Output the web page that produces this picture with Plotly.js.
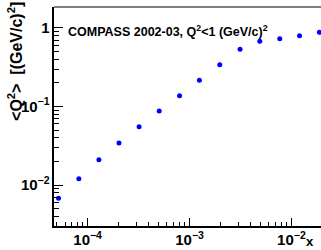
<!DOCTYPE html>
<html><head><meta charset="utf-8">
<script src="https://cdn.plot.ly/plotly-3.0.1.min.js"></script>
<style>html,body{margin:0;padding:0;background:#fff}</style>
</head><body><div id="plot" style="width:321px;height:250px"></div>
<script>
const xValues = [5.18e-5, 8.2e-5, 1.29e-4, 2.03e-4, 3.2e-4, 5.04e-4, 7.98e-4, 1.25e-3, 1.98e-3, 3.13e-3, 4.89e-3, 7.68e-3, 1.2e-2, 1.88e-2];
const q2Values = [0.0068, 0.0120, 0.0209, 0.0343, 0.0553, 0.0877, 0.137, 0.216, 0.341, 0.535, 0.677, 0.731, 0.798, 0.881];
const titleText = "<b>COMPASS 2002-03, Q<sup>2</sup><1 (GeV/c)<sup>2</sup></b>";
const yTitle = "<b>&lt;Q<sup>2</sup>&gt;  [(GeV/c)<sup>2</sup>]</b>";
const xTitle = "<b>x</b>";

const fontFam = "Liberation Sans, Arial, sans-serif";
const data = [{
  x: xValues, y: q2Values, type: 'scatter', mode: 'markers',
  marker: {color: '#0000ff', size: 5, symbol: 'circle'},
  cliponaxis: false
}];
const layout = {
  width: 321, height: 250,
  margin: {l: 54, r: 0, t: 7, b: 24},
  paper_bgcolor: '#fff', plot_bgcolor: '#fff',
  showlegend: false,
  font: {family: fontFam, color: '#000', size: 12},
  xaxis: {
    type: 'log', range: [-4.33, -1.71], dtick: 1,
    exponentformat: 'power',
    showgrid: false, zeroline: false,
    showline: true, linecolor: '#000', linewidth: 2, mirror: false,
    ticks: 'inside', ticklen: 8, tickwidth: 1, tickcolor: '#000',
    tickfont: {family: fontFam, size: 12, weight: 'bold'},
    minor: {ticks: 'inside', ticklen: 4, tickwidth: 1, tickcolor: '#000', showgrid: false}
  },
  yaxis: {
    type: 'log', range: [-2.522, 0.267], dtick: 1,
    exponentformat: 'power',
    showgrid: false, zeroline: false,
    showline: true, linecolor: '#000', linewidth: 2, mirror: false,
    ticks: 'inside', ticklen: 9, tickwidth: 1, tickcolor: '#000',
    tickfont: {family: fontFam, size: 12, weight: 'bold'},
    minor: {ticks: 'inside', ticklen: 5, tickwidth: 1, tickcolor: '#000', showgrid: false}
  },
  shapes: [
    {type: 'line', xref: 'paper', yref: 'paper', x0: 0, x1: 1, y0: 1, y1: 1, line: {color: '#555', width: 1.5}}
  ],
  annotations: [
    {text: titleText, xref: 'paper', yref: 'paper', x: 12/267, y: (226-31)/219, xanchor: 'left', yanchor: 'middle', showarrow: false, font: {family: fontFam, size: 12.5, color: '#000'}},
    {text: yTitle, xref: 'paper', yref: 'paper', x: -39/267, y: 1.03, xanchor: 'center', yanchor: 'top', textangle: -90, showarrow: false, font: {family: fontFam, size: 16, color: '#000'}},
    {text: xTitle, xref: 'paper', yref: 'paper', x: (310-54)/267, y: -15/219, xanchor: 'center', yanchor: 'middle', showarrow: false, font: {family: fontFam, size: 13, color: '#000'}}
  ]
};
Plotly.newPlot('plot', data, layout, {displayModeBar: false, staticPlot: true});
</script></body></html>
